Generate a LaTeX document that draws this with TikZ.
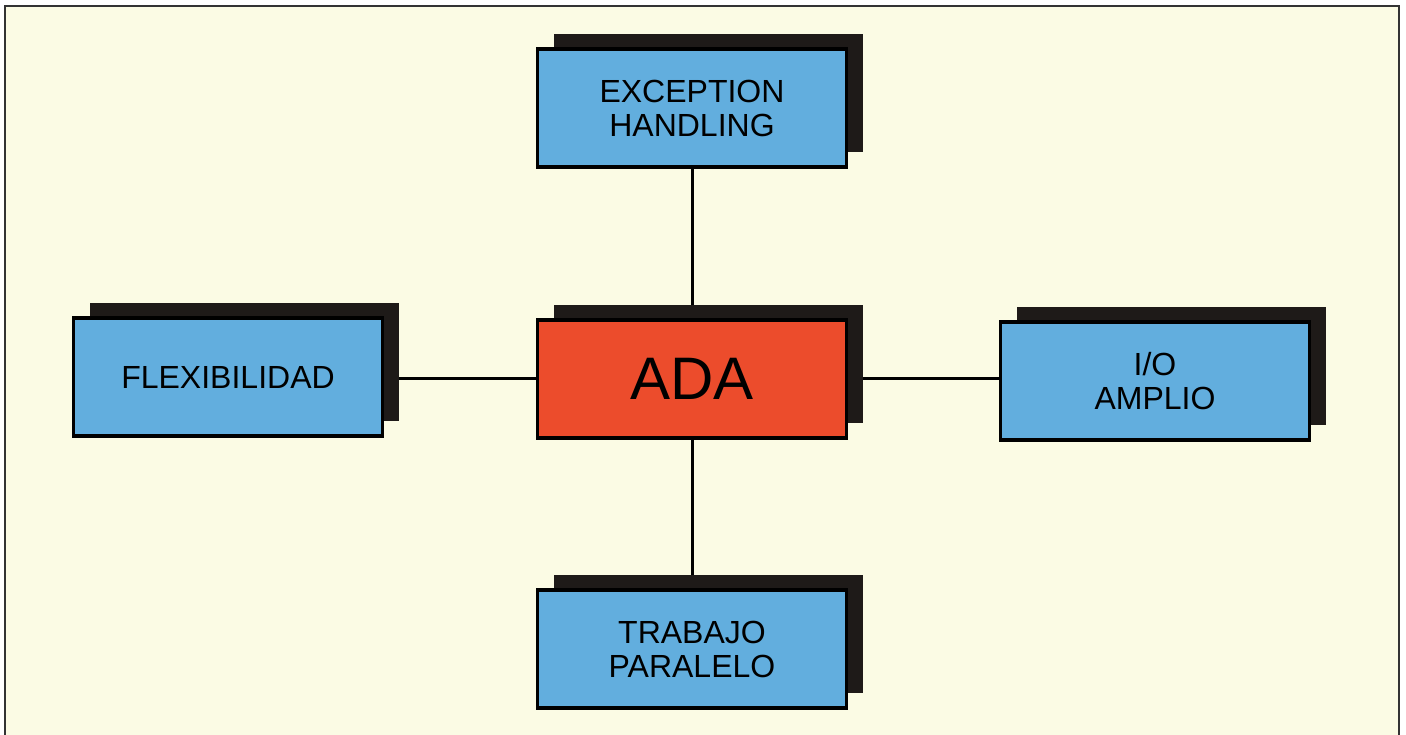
\documentclass[tikz,border=0pt]{standalone}
\usepackage{fontspec}
\setmainfont{Liberation Sans}
\usepackage{tikz}
\usetikzlibrary{shadows,backgrounds}

\definecolor{paper}{RGB}{251,251,228}
\definecolor{boxblue}{RGB}{98,174,222}
\definecolor{adared}{RGB}{236,76,44}
\definecolor{shade}{RGB}{30,26,24}

\tikzset{
  featbox/.style={draw=black, line width=3.5pt, fill=boxblue, align=center,
    minimum width=309pt, minimum height=118pt, inner sep=0pt,
    font=\fontsize{32}{34}\selectfont,
    drop shadow={shadow xshift=16pt, shadow yshift=15pt, fill=shade,
      opacity=1, rounded corners=3pt}},
  adabox/.style={featbox, fill=adared, font=\fontsize{60}{60}\selectfont},
  link/.style={line width=3pt, black}
}

\begin{document}
\begin{tikzpicture}[x=1pt, y=-1pt]
\useasboundingbox (0,0) rectangle (1406,735);

% Centre box and the four features round it
\node[adabox] (ada) at (692,379) {ADA};
\node[featbox] (exc) at (692,108) {EXCEPTION\\HANDLING};
\node[featbox] (flex) at (228,377) {FLEXIBILIDAD};
\node[featbox] (io) at (1155,381) {I/O\\AMPLIO};
\node[featbox] (trab) at (692,649) {TRABAJO\\PARALELO};

% Paper, frame and connectors, kept behind the boxes
\begin{scope}[on background layer]
  \fill[white] (0,0) rectangle (1406,735);
  \fill[paper] (5,6) rectangle (1399,735);
  \draw[line width=2pt, black!80] (5,735) -- (5,6) -- (1399,6) -- (1399,735);
  \draw[link] (exc) -- (ada);
  \draw[link] (ada) -- (trab);
  \draw[link] (flex.east |- 0,378) -- (ada.west |- 0,378);
  \draw[link] (ada.east |- 0,378) -- (io.west |- 0,378);
\end{scope}

\end{tikzpicture}
\end{document}
